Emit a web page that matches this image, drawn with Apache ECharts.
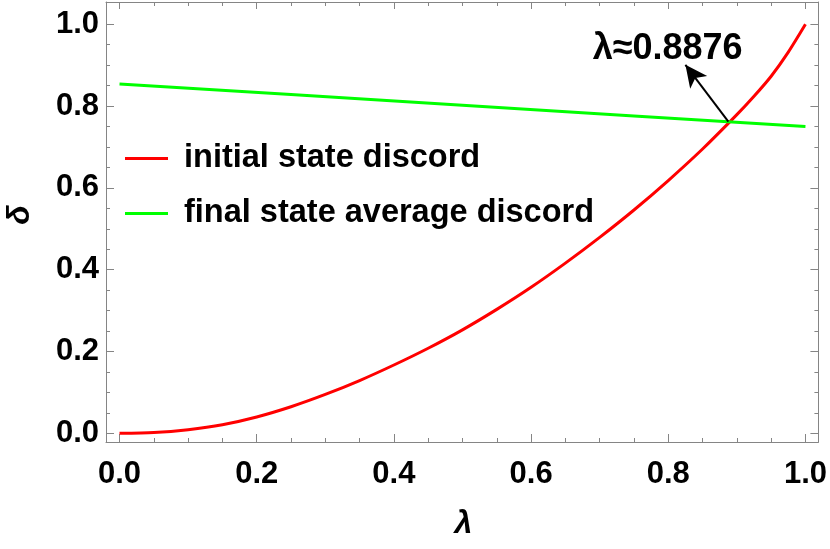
<!DOCTYPE html>
<html><head><meta charset="utf-8">
<script src="https://cdn.jsdelivr.net/npm/echarts@6/dist/echarts.min.js"></script>
<style>html,body{margin:0;padding:0;background:#fff}#c{width:830px;height:549px}</style>
</head><body><div id="c"></div>
<script>
// ---- data ----
const lambdaRed = [0,0.05,0.1,0.15,0.2,0.25,0.3,0.35,0.4,0.45,0.5,0.55,0.6,0.65,0.7,0.75,0.8,0.85,0.9,0.925,0.95,0.975,1.0];
const deltaRed  = [0,0.002,0.009,0.021,0.040,0.065,0.095,0.129,0.167,0.208,0.253,0.303,0.357,0.416,0.479,0.546,0.618,0.695,0.779,0.824,0.873,0.932,1.0];
const lambdaGreen = [0,0.25,0.5,0.75,1.0];
const deltaGreen  = [0.854,0.828,0.802,0.776,0.750];
const seriesNames = ['initial state discord','final state average discord'];
const majorTicks = [0,0.2,0.4,0.6,0.8,1.0];
const minorTicks = [0,0.05,0.1,0.15,0.2,0.25,0.3,0.35,0.4,0.45,0.5,0.55,0.6,0.65,0.7,0.75,0.8,0.85,0.9,0.95,1.0];
const crossPoint = [0.8876, 0.762];
const arrowTip = [0.825, 0.9007];
const annotText = 'λ≈0.8876';
const annotPos = [0.799, 0.94];

const XMIN=-0.0197, XMAX=1.0189, YMIN=-0.0212, YMAX=1.0544;
const gray='#858585';
const FONT='"Liberation Sans", Arial, sans-serif';
const fmt = v => v.toFixed(1);

function xAx(pos, labels, ticks, len, line){
  return {type:'value', position:pos, min:XMIN, max:XMAX,
    axisLine:{show:line, onZero:false, lineStyle:{color:gray,width:1}},
    axisTick:{show:true, inside:true, length:len, customValues:ticks, lineStyle:{color:gray,width:1}},
    axisLabel:{show:labels, customValues:majorTicks, formatter:fmt, margin:17, color:'#000', fontSize:31, fontWeight:'bold', fontFamily:FONT},
    splitLine:{show:false}};
}
function yAx(pos, labels, ticks, len, line){
  return {type:'value', position:pos, min:YMIN, max:YMAX,
    axisLine:{show:line, onZero:false, lineStyle:{color:gray,width:1}},
    axisTick:{show:true, inside:true, length:len, customValues:ticks, lineStyle:{color:gray,width:1}},
    axisLabel:{show:labels, customValues:majorTicks, formatter:fmt, margin:7, color:'#000', fontSize:31, fontWeight:'bold', fontFamily:FONT},
    splitLine:{show:false}};
}

const chart = echarts.init(document.getElementById('c'), null, {renderer:'canvas'});
chart.setOption({
  animation:false,
  backgroundColor:'#fff',
  grid:{left:106, right:11, top:2, bottom:107, containLabel:false},
  xAxis:[ xAx('bottom',true,majorTicks,8,true), xAx('bottom',false,minorTicks,4,false),
          xAx('top',false,majorTicks,7,true), xAx('top',false,minorTicks,4,false) ],
  yAxis:[ yAx('left',true,majorTicks,8,true), yAx('left',false,minorTicks,4,false),
          yAx('right',false,majorTicks,8,true), yAx('right',false,minorTicks,4,false) ],
  legend:{orient:'vertical', left:120, top:136, itemWidth:43, itemHeight:3, itemGap:20, icon:'rect',
    data:seriesNames,
    textStyle:{fontSize:32.5, fontWeight:'bold', fontFamily:FONT, color:'#000', lineHeight:35, padding:[0,0,0,11]}},
  graphic:[
    {type:'text', x:463.5, y:524, style:{text:'λ', font:'italic bold 32px '+FONT, fill:'#000', textAlign:'center', textVerticalAlign:'middle'}},
    {type:'text', rotation:Math.PI/2, x:20.5, y:215, style:{text:'δ', font:'italic bold 32px '+FONT, fill:'#000', textAlign:'center', textVerticalAlign:'middle'}}
  ],
  series:[
    {name:seriesNames[0], type:'line', xAxisIndex:0, yAxisIndex:0, showSymbol:false, smooth:0.25,
     data:lambdaRed.map((x,i)=>[x,deltaRed[i]]), lineStyle:{color:'#ff0000', width:3}, itemStyle:{color:'#ff0000'}},
    {name:seriesNames[1], type:'line', xAxisIndex:0, yAxisIndex:0, showSymbol:false,
     data:lambdaGreen.map((x,i)=>[x,deltaGreen[i]]), lineStyle:{color:'#00ff00', width:3}, itemStyle:{color:'#00ff00'},
     markLine:{silent:true, symbol:['none','arrow'], symbolSize:[16,22], label:{show:false},
       lineStyle:{color:'#000', width:2, type:'solid'},
       data:[[{coord:crossPoint},{coord:arrowTip}]]},
     markPoint:{silent:true, symbol:'circle', symbolSize:0,
       data:[{coord:annotPos, value:annotText}],
       label:{show:true, position:'inside', formatter:annotText, color:'#000', fontSize:36, fontWeight:'bold', fontFamily:FONT}}
    }
  ]
});
</script></body></html>
